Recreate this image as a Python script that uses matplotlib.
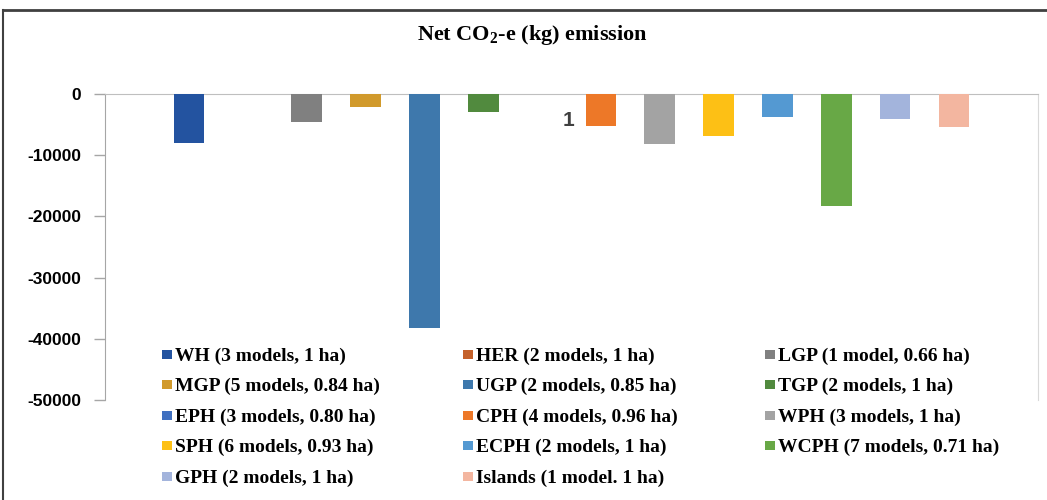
import matplotlib
matplotlib.use("Agg")
import matplotlib.pyplot as plt
from matplotlib.patches import Rectangle
from matplotlib.lines import Line2D

categories = ["WH", "HER", "LGP", "MGP", "UGP", "TGP", "EPH", "CPH",
              "WPH", "SPH", "ECPH", "WCPH", "GPH", "Islands"]
legend_labels = [
    "WH (3 models, 1 ha)", "HER (2 models, 1 ha)", "LGP (1 model, 0.66 ha)",
    "MGP (5 models, 0.84 ha)", "UGP (2 models, 0.85 ha)", "TGP (2 models, 1 ha)",
    "EPH (3 models, 0.80 ha)", "CPH (4 models, 0.96 ha)", "WPH (3 models, 1 ha)",
    "SPH (6 models, 0.93 ha)", "ECPH (2 models, 1 ha)", "WCPH (7 models, 0.71 ha)",
    "GPH (2 models, 1 ha)", "Islands (1 model. 1 ha)",
]
values = [-7950, 0, -4600, -2150, -38300, -3000, 1, -5200,
          -8150, -6800, -3770, -18250, -4050, -5400]
colors = ["#2353A0", "#C4612B", "#808080", "#D19A2C", "#3E78AC", "#518A3E",
          "#4070C0", "#ED7828", "#A3A3A3", "#FDC015", "#5499D2", "#68A846",
          "#A3B4DC", "#F3B6A0"]
yticks = [0, -10000, -20000, -30000, -40000, -50000]
label_text = "1"
label_value = -4400

plt.rcParams["mathtext.fontset"] = "custom"
plt.rcParams["mathtext.rm"] = "Liberation Serif:bold"
plt.rcParams["mathtext.it"] = "Liberation Serif:bold"
plt.rcParams["mathtext.bf"] = "Liberation Serif:bold"

W, H = 1047, 500
fig = plt.figure(figsize=(W / 100, H / 100), dpi=100)
fig.patch.set_facecolor("white")

ax = fig.add_axes([105 / W, 1 - 400 / H, (1038 - 105) / W, (400 - 94) / H])
x = list(range(len(categories)))
ax.bar(x, values, width=0.52, color=colors, zorder=3)
ax.set_xlim(-1.43, 14.43)
ax.set_ylim(-50000, 0)
ax.set_yticks(yticks)
ax.set_yticklabels([str(v) for v in yticks], fontfamily="Liberation Sans",
                   fontweight="bold", fontsize=12.5)
ax.set_xticks([])
ax.tick_params(axis="y", direction="out", length=8, width=1, color="#A6A6A6", pad=9)
ax.spines["left"].set_color("#A6A6A6")
ax.spines["top"].set_color("#BFBFBF")
ax.spines["right"].set_color("#D9D9D9")
ax.spines["bottom"].set_visible(False)

ax.text(6.45, label_value, label_text, ha="center", va="center",
        fontfamily="Liberation Sans", fontweight="bold", fontsize=15, color="#404040")

fig.text(532 / W, 1 - 35 / H, r"Net CO$_{\mathrm{2}}$-e (kg) emission", ha="center",
         va="center", fontfamily="Liberation Serif", fontweight="bold", fontsize=16)

# legend drawn as a 3-column grid, row-major
col_x = [162, 463, 765]
row_y0, row_dy = 354, 30.5
for i, (lab, c) in enumerate(zip(legend_labels, colors)):
    r, k = divmod(i, 3)
    px = col_x[k]
    py = row_y0 + r * row_dy
    fig.add_artist(Rectangle((px / W, 1 - (py + 4.5) / H), 10 / W, 9 / H,
                             facecolor=c, edgecolor="none", transform=fig.transFigure))
    fig.text((px + 13) / W, 1 - py / H, lab, ha="left", va="center_baseline",
             fontfamily="Liberation Serif", fontweight="bold", fontsize=14)

# outer frame
fig.add_artist(Line2D([3 / W, 1], [1 - 10 / H, 1 - 10 / H], color="#404040", lw=2))
fig.add_artist(Line2D([3 / W, 3 / W], [0, 1 - 10 / H], color="#404040", lw=1.5))

fig.savefig("out.png", dpi=100)
